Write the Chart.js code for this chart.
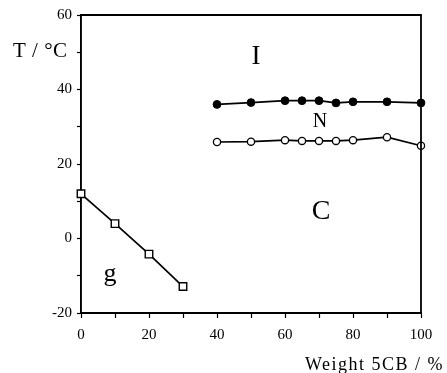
<!DOCTYPE html>
<html>
<head>
<meta charset="utf-8">
<script src="https://cdn.jsdelivr.net/npm/chart.js@4"></script>
<style>
    html, body { margin: 0; padding: 0; background: #fff; }
    #wrap { width: 447px; height: 373px; }
</style>
</head>
<body>
<div id="wrap"><canvas id="chart" width="447" height="373"></canvas></div>
<script>
// Dữ liệu
const glassX = [0, 10, 20, 30];
const glassT = [12, 4, -4.2, -12.9];

const mixX = [40, 50, 60, 65, 70, 75, 80, 90, 100];
const clearingT = [36.0, 36.5, 37.0, 37.0, 37.0, 36.4, 36.7, 36.7, 36.4];
const meltingT = [25.9, 26.0, 26.4, 26.2, 26.2, 26.2, 26.4, 27.2, 24.9];

const yLabelTicks = [60, 40, 20, 0, -20];
const phaseNames = ['I', 'N', 'C', 'g'];
const xTitle = 'Weight 5CB / %';
const yTitle = 'T / °C';

const serif = "'Liberation Serif', 'DejaVu Serif', serif";

function toPoints(xs, ys) {
    return xs.map((x, i) => ({ x: x, y: ys[i] }));
}

// Vẽ khung, chữ pha và tiêu đề trục
const decorPlugin = {
    id: 'decor',
    afterDraw(chart) {
        const { ctx, chartArea, scales } = chart;
        const xs = scales.x, ys = scales.y;
        ctx.save();
        ctx.strokeStyle = '#000';
        ctx.lineWidth = 1.8;
        ctx.beginPath();
        ctx.moveTo(chartArea.left, chartArea.top);
        ctx.lineTo(chartArea.right, chartArea.top);
        ctx.lineTo(chartArea.right, chartArea.bottom);
        ctx.stroke();

        ctx.fillStyle = '#000';
        ctx.textBaseline = 'alphabetic';
        ctx.textAlign = 'center';
        const spots = [
            { x: 51.5, y: 46.8, size: 27 },
            { x: 70.3, y: 30.0, size: 20 },
            { x: 70.6, y: 5.2, size: 28 },
            { x: 8.5, y: -11.3, size: 26 }
        ];
        phaseNames.forEach((name, i) => {
            const s = spots[i];
            ctx.font = s.size + 'px ' + serif;
            ctx.fillText(name, xs.getPixelForValue(s.x), ys.getPixelForValue(s.y));
        });

        ctx.textAlign = 'left';
        ctx.font = '21px ' + serif;
        ctx.letterSpacing = '0.5px';
        ctx.fillText(yTitle, 13, 57);

        ctx.textAlign = 'right';
        ctx.font = '18px ' + serif;
        ctx.letterSpacing = '1.5px';
        ctx.fillText(xTitle, 444, 370);
        ctx.restore();
    }
};

const ctx = document.getElementById('chart').getContext('2d');
const chart = new Chart(ctx, {
    type: 'scatter',
    data: {
        datasets: [
            {
                data: toPoints(glassX, glassT),
                showLine: true,
                borderColor: '#000',
                borderWidth: 1.7,
                pointStyle: 'rect',
                pointRadius: 5.3,
                pointBorderWidth: 1.4,
                pointBackgroundColor: '#fff',
                pointBorderColor: '#000',
                clip: false
            },
            {
                data: toPoints(mixX, clearingT),
                showLine: true,
                borderColor: '#000',
                borderWidth: 1.8,
                pointStyle: 'circle',
                pointRadius: 3.9,
                pointBorderWidth: 1,
                pointBackgroundColor: '#000',
                pointBorderColor: '#000',
                clip: false
            },
            {
                data: toPoints(mixX, meltingT),
                showLine: true,
                borderColor: '#000',
                borderWidth: 1.7,
                pointStyle: 'circle',
                pointRadius: 3.6,
                pointBorderWidth: 1.3,
                pointBackgroundColor: '#fff',
                pointBorderColor: '#000',
                clip: false
            }
        ]
    },
    options: {
        responsive: false,
        animation: false,
        events: [],
        layout: { padding: { left: 0, right: 26, top: 15, bottom: 0 } },
        plugins: {
            legend: { display: false },
            tooltip: { enabled: false }
        },
        scales: {
            x: {
                type: 'linear',
                min: 0,
                max: 100,
                afterFit(scale) { scale.height = 60; },
                border: { display: true, color: '#000', width: 1.9 },
                grid: {
                    drawOnChartArea: false,
                    drawTicks: true,
                    tickLength: 5,
                    tickColor: '#000',
                    tickWidth: 1.2
                },
                ticks: {
                    stepSize: 10,
                    padding: 8,
                    color: '#000',
                    font: { family: serif, size: 15 },
                    maxRotation: 0,
                    autoSkip: false,
                    callback: (v) => (v % 20 === 0 ? String(v) : '')
                }
            },
            y: {
                type: 'linear',
                min: -20,
                max: 60,
                afterFit(scale) { scale.width = 81; },
                border: { display: true, color: '#000', width: 1.9 },
                grid: {
                    drawOnChartArea: false,
                    drawTicks: true,
                    tickLength: 4,
                    tickColor: '#000',
                    tickWidth: 1.2
                },
                ticks: {
                    stepSize: 10,
                    padding: 5,
                    color: '#000',
                    font: { family: serif, size: 15 },
                    autoSkip: false,
                    callback: (v) => (yLabelTicks.includes(v) ? String(v) : '')
                }
            }
        }
    },
    plugins: [decorPlugin]
});
</script>
</body>
</html>
